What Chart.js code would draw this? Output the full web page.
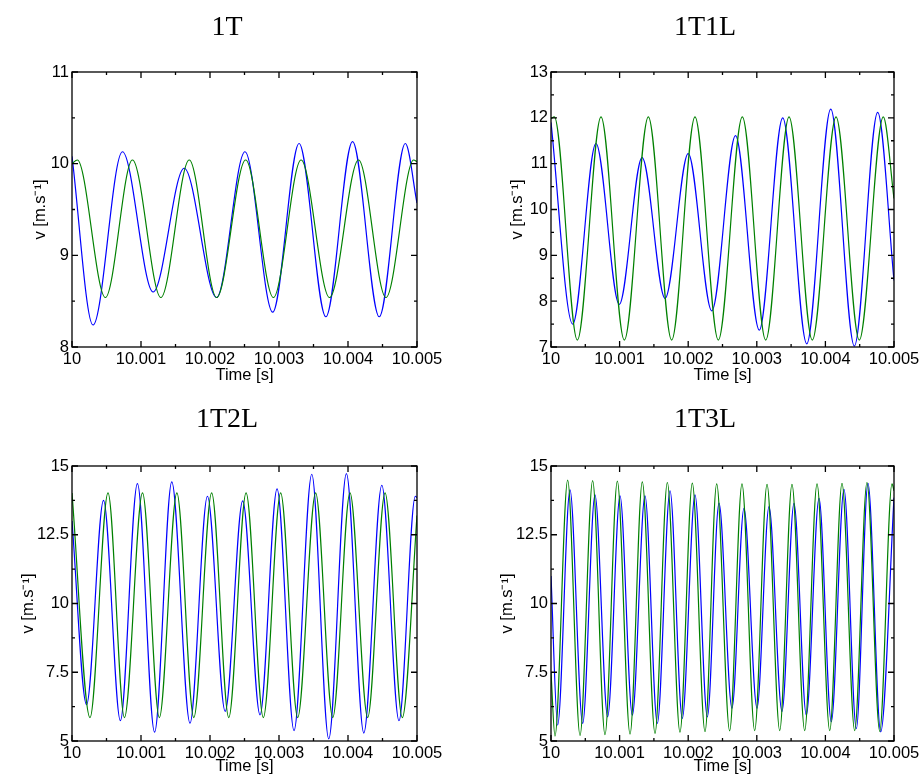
<!DOCTYPE html>
<html>
<head>
<meta charset="utf-8">
<script src="https://cdn.jsdelivr.net/npm/chart.js@4.4.1/dist/chart.umd.min.js"></script>
<style>
  body { margin: 0; background: #fff; width: 924px; height: 782px; position: relative; overflow: hidden; }
  canvas { position: absolute; }
</style>
</head>
<body>
<canvas id="c1" width="462" height="391" style="left:0;top:0"></canvas>
<canvas id="c2" width="462" height="391" style="left:462px;top:0"></canvas>
<canvas id="c3" width="462" height="391" style="left:0;top:391px"></canvas>
<canvas id="c4" width="462" height="391" style="left:462px;top:391px"></canvas>
<script>
// tick labels
const xTickValues = [10, 10.001, 10.002, 10.003, 10.004, 10.005];
const xTickLabels = ['10', '10.001', '10.002', '10.003', '10.004', '10.005'];
const yTicks1 = [8, 9, 10, 11];
const yTicks2 = [7, 8, 9, 10, 11, 12, 13];
const yTicks34 = [5, 7.5, 10, 12.5, 15];
const yTickLabels34 = ['5', '7.5', '10', '12.5', '15'];
const titles = ['1T', '1T1L', '1T2L', '1T3L'];

// 1T  (extrema)
const t1Blue = [10, 10.000305, 10.000731, 10.001176, 10.001626, 10.002096, 10.002507, 10.002909, 10.003291, 10.003679, 10.004066, 10.004453, 10.004831, 10.005];
const v1Blue = [10.08, 8.24, 10.13, 8.60, 9.95, 8.54, 10.13, 8.38, 10.22, 8.33, 10.24, 8.33, 10.22, 9.57];
const t1Green = [10, 10.000077, 10.000484, 10.000876, 10.001288, 10.001699, 10.002096, 10.002517, 10.002919, 10.00332, 10.003732, 10.004153, 10.00455, 10.004952, 10.005];
const v1Green = [10.0, 10.04, 8.54, 10.04, 8.54, 10.04, 8.54, 10.04, 8.54, 10.04, 8.54, 10.04, 8.54, 10.04, 10.02];

// 1T1L
const t2Blue = [10, 10.000316, 10.000655, 10.000995, 10.001328, 10.001663, 10.002, 10.002344, 10.00269, 10.003036, 10.003378, 10.003728, 10.004078, 10.004422, 10.004762, 10.005];
const v2Blue = [11.9, 7.5, 11.44, 7.93, 11.13, 8.06, 11.22, 7.79, 11.61, 7.37, 12.0, 7.07, 12.19, 7.02, 12.12, 8.45];
const t2Green = [10, 10.000049, 10.000384, 10.000729, 10.001069, 10.001419, 10.001759, 10.002099, 10.002439, 10.002789, 10.00313, 10.00347, 10.003809, 10.004155, 10.004494, 10.004844, 10.005];
const v2Green = [11.98, 12.02, 7.15, 12.02, 7.15, 12.02, 7.15, 12.02, 7.15, 12.02, 7.15, 12.02, 7.15, 12.02, 7.15, 12.02, 10.24];

// 1T2L
const t3Blue = [10, 10.000211, 10.000457, 10.000701, 10.000948, 10.001197, 10.001446, 10.00171, 10.001963, 10.00222, 10.002474, 10.002725, 10.002972, 10.003218, 10.003475, 10.003721, 10.003977, 10.004229, 10.00449, 10.004739, 10.004976, 10.005];
const v3Blue = [13.0, 6.32, 13.75, 5.74, 14.36, 5.32, 14.42, 5.65, 13.90, 6.08, 13.73, 5.95, 14.17, 5.38, 14.70, 5.08, 14.72, 5.29, 14.30, 5.74, 13.9, 13.85];
const t3Green = [10, 10.000261, 10.000522, 10.00076, 10.001022, 10.001266, 10.00152, 10.001765, 10.002024, 10.002272, 10.002523, 10.002773, 10.003024, 10.003271, 10.003531, 10.003779, 10.004029, 10.004285, 10.004537, 10.004787, 10.005];
const v3Green = [14.02, 5.85, 14.02, 5.85, 14.02, 5.85, 14.02, 5.85, 14.02, 5.85, 14.02, 5.85, 14.02, 5.85, 14.02, 5.85, 14.02, 5.85, 14.02, 5.85, 13.2];

// 1T3L
const t4Blue = [10, 10.000097, 10.000277, 10.000462, 10.000641, 10.000826, 10.001006, 10.001186, 10.00137, 10.00155, 10.001735, 10.001914, 10.002099, 10.002279, 10.002449, 10.002638, 10.002813, 10.003003, 10.003178, 10.003367, 10.003542, 10.003722, 10.003907, 10.004086, 10.004271, 10.004451, 10.004621, 10.004806, 10.005];
const v4Blue = [11.0, 5.58, 14.13, 5.64, 13.95, 5.88, 13.91, 5.94, 13.91, 5.64, 14.10, 5.82, 13.95, 5.88, 13.65, 6.19, 13.46, 6.19, 13.52, 6.07, 13.64, 5.94, 13.82, 5.7, 14.15, 5.45, 14.37, 5.33, 13.85];
const t4Green = [10, 10.000058, 10.000243, 10.000423, 10.000607, 10.000787, 10.000967, 10.001152, 10.001331, 10.001516, 10.001696, 10.00188, 10.00206, 10.002245, 10.002415, 10.002604, 10.002784, 10.002969, 10.003149, 10.003334, 10.003513, 10.003698, 10.003878, 10.004063, 10.004242, 10.004427, 10.004606, 10.004792, 10.004971, 10.005];
const v4Green = [7.5, 5.18, 14.49, 5.2, 14.47, 5.23, 14.45, 5.25, 14.42, 5.28, 14.4, 5.32, 14.38, 5.34, 14.35, 5.37, 14.35, 5.38, 14.33, 5.38, 14.33, 5.38, 14.35, 5.38, 14.37, 5.38, 14.4, 5.35, 14.35, 14.1];

const BLUE = 'rgb(0,0,255)';
const GREEN = 'rgb(0,128,0)';

Chart.defaults.font.family = '"Liberation Sans", Arial, sans-serif';
Chart.defaults.font.size = 16.5;
Chart.defaults.color = '#000';

function pts(ts, vs) {
  return ts.map((t, i) => ({ x: t, y: vs[i] }));
}

function labelFor(values, labels, v) {
  const i = values.findIndex(u => Math.abs(u - v) < 1e-7);
  return i < 0 ? '' : labels[i];
}

// box with inward ticks on all sides + panel title
const framePlugin = {
  id: 'frame',
  afterDraw(chart, args, opts) {
    const { ctx, chartArea: a } = chart;
    const x = chart.scales.x, y = chart.scales.y;
    ctx.save();
    ctx.strokeStyle = '#000';
    ctx.lineWidth = 1.3;
    ctx.strokeRect(a.left, a.top, a.right - a.left, a.bottom - a.top);
    ctx.beginPath();
    x.ticks.forEach(t => {
      const px = x.getPixelForValue(t.value);
      const len = t.label ? 6 : 3;
      ctx.moveTo(px, a.bottom); ctx.lineTo(px, a.bottom - len);
      ctx.moveTo(px, a.top); ctx.lineTo(px, a.top + len);
    });
    y.ticks.forEach(t => {
      const py = y.getPixelForValue(t.value);
      const len = t.label ? 6 : 3;
      ctx.moveTo(a.left, py); ctx.lineTo(a.left + len, py);
      ctx.moveTo(a.right, py); ctx.lineTo(a.right - len, py);
    });
    ctx.stroke();
    ctx.fillStyle = '#000';
    ctx.font = '28px "Liberation Serif", serif';
    ctx.textAlign = 'center';
    ctx.textBaseline = 'middle';
    ctx.fillText(opts.text, opts.cx, opts.cy);
    ctx.restore();
  }
};

function makePanel(id, p) {
  new Chart(document.getElementById(id), {
    type: 'line',
    data: {
      datasets: [
        { data: pts(p.tGreen, p.vGreen), borderColor: GREEN },
        { data: pts(p.tBlue, p.vBlue), borderColor: BLUE }
      ]
    },
    options: {
      responsive: false,
      animation: false,
      parsing: false,
      layout: { padding: { top: p.top, right: p.right, left: 0, bottom: 0 } },
      elements: {
        line: { borderWidth: 1.2, cubicInterpolationMode: 'monotone', fill: false },
        point: { radius: 0 }
      },
      plugins: {
        legend: { display: false },
        tooltip: { enabled: false },
        frame: { text: p.title, cx: p.titleX, cy: p.titleY }
      },
      scales: {
        x: {
          type: 'linear',
          min: 10, max: 10.005,
          grid: { display: false, drawTicks: false },
          border: { display: false },
          ticks: {
            stepSize: 0.0005, autoSkip: false, maxRotation: 0, padding: 3,
            callback: v => labelFor(xTickValues, xTickLabels, v)
          },
          title: { display: true, text: 'Time [s]', padding: { top: 0, bottom: 6 } },
          afterFit: s => { s.height = p.xHeight; }
        },
        y: {
          min: p.yMin, max: p.yMax,
          grid: { display: false, drawTicks: false },
          border: { display: false },
          ticks: {
            stepSize: p.yMinor, autoSkip: false, padding: 3,
            callback: v => labelFor(p.yTicks, p.yLabels, v)
          },
          title: { display: true, text: 'v [m.s⁻¹]', padding: { top: p.yTitlePad, bottom: 0 } },
          afterFit: s => { s.width = p.yWidth; }
        }
      }
    },
    plugins: [framePlugin]
  });
}

makePanel('c1', {
  title: titles[0], titleX: 227, titleY: 28, top: 72, right: 45, yWidth: 72, xHeight: 44, yTitlePad: 31,
  yMin: 8, yMax: 11, yMinor: 0.5, yTicks: yTicks1, yLabels: yTicks1.map(String),
  tBlue: t1Blue, vBlue: v1Blue, tGreen: t1Green, vGreen: v1Green
});
makePanel('c2', {
  title: titles[1], titleX: 243, titleY: 28, top: 72, right: 30, yWidth: 89, xHeight: 44, yTitlePad: 46,
  yMin: 7, yMax: 13, yMinor: 0.5, yTicks: yTicks2, yLabels: yTicks2.map(String),
  tBlue: t2Blue, vBlue: v2Blue, tGreen: t2Green, vGreen: v2Green
});
makePanel('c3', {
  title: titles[2], titleX: 227, titleY: 29, top: 75, right: 45, yWidth: 72, xHeight: 41, yTitlePad: 19,
  yMin: 5, yMax: 15, yMinor: 1.25, yTicks: yTicks34, yLabels: yTickLabels34,
  tBlue: t3Blue, vBlue: v3Blue, tGreen: t3Green, vGreen: v3Green
});
makePanel('c4', {
  title: titles[3], titleX: 243, titleY: 29, top: 75, right: 30, yWidth: 89, xHeight: 41, yTitlePad: 36,
  yMin: 5, yMax: 15, yMinor: 1.25, yTicks: yTicks34, yLabels: yTickLabels34,
  tBlue: t4Blue, vBlue: v4Blue, tGreen: t4Green, vGreen: v4Green
});
</script>
</body>
</html>
